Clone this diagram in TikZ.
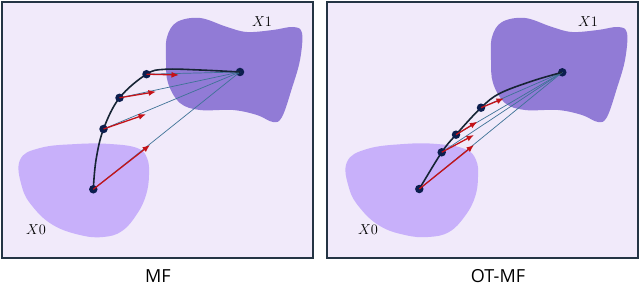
\documentclass[tikz,border=0pt]{standalone}
\usepackage{fontspec}
\newfontfamily\capfont{Open Sans}
\usetikzlibrary{arrows.meta}
\definecolor{bgpurple}{RGB}{241,234,250}
\definecolor{framecol}{RGB}{36,52,68}
\definecolor{srcpurple}{RGB}{200,176,250}
\definecolor{tgtpurple}{RGB}{145,123,214}
\definecolor{dotnavy}{RGB}{12,30,78}
\definecolor{curvecol}{RGB}{22,36,52}
\definecolor{arrred}{RGB}{196,18,24}
\definecolor{raycol}{RGB}{62,114,150}

\begin{document}
\begin{tikzpicture}[
    x=1pt, y=-1pt,
    >=Latex,
    panel/.style={draw=framecol, line width=1.8pt, fill=bgpurple},
    srcblob/.style={fill=srcpurple, draw=none},
    tgtblob/.style={fill=tgtpurple, draw=none},
    dot/.style={circle, fill=dotnavy, inner sep=0pt, minimum size=8.5pt},
    flow/.style={draw=curvecol, line width=1.6pt},
    ray/.style={draw=raycol, line width=0.7pt},
    vel/.style={draw=arrred, line width=1.3pt, arrows={-Latex[length=7.5pt, width=6pt]}},
    setlabel/.style={font=\fontsize{14}{16}\selectfont},
    caption/.style={font=\capfont\fontsize{18}{20}\selectfont},
]
\useasboundingbox (0,0) rectangle (640,286);

% ============ (a) MF ============
\begin{scope}
    \draw[panel] (2,2) rectangle (313,258);

    \fill[srcblob] plot[smooth cycle, tension=0.7] coordinates {(20,160) (40,148) (77,144) (110,144) (137,148) (147,158) (149,175) (146,195) (137,214) (122,231) (103,237) (80,235) (53,225) (33,207) (22,187)};
    \fill[tgtblob] plot[smooth cycle, tension=0.6] coordinates {(167,37) (177,22) (200,18) (227,27) (247,32) (273,30) (293,27) (302,33) (300,60) (292,88) (282,117) (273,122) (257,115) (233,110) (200,110) (180,103) (168,83) (166,60)};

    \node[setlabel] (a_lbl1) at (262,22) {$X1$};
    \node[setlabel] (a_lbl0) at (36,230) {$X0$};

    \coordinate (a_tip0) at (150,145);
    \coordinate (a_tip1) at (146,114.3);
    \coordinate (a_tip2) at (156,91.7);
    \coordinate (a_tip3) at (179,75);

    \node[dot] (a_x1) at (240,72) {};

    \draw[ray] (93.3,189.3) -- (a_x1.center);
    \draw[ray] (103.5,129) -- (a_x1.center);
    \draw[ray] (119.5,97.8) -- (a_x1.center);
    \draw[ray] (146.5,74.2) -- (a_x1.center);

    \draw[flow] plot[smooth, tension=0.6] coordinates {(93.3,189.3) (96,160) (103.5,129) (119.5,97.8) (146.5,74.2) (165,69.3) (200,70) (240,72)};

    \node[dot] (a_x0) at (93.3,189.3) {};
    \node[dot] (a_p1) at (103.5,129) {};
    \node[dot] (a_p2) at (119.5,97.8) {};
    \node[dot] (a_p3) at (146.5,74.2) {};

    \draw[vel] (a_x0.center) -- (a_tip0);
    \draw[vel] (a_p1.center) -- (a_tip1);
    \draw[vel] (a_p2.center) -- (a_tip2);
    \draw[vel] (a_p3.center) -- (a_tip3);

    \node[caption] (a_cap) at (158,276) {MF};
\end{scope}

% ============ (b) OT-MF ============
\begin{scope}[shift={(325,0)}]
    \draw[panel] (2,2) rectangle (313,258);

    \fill[srcblob] plot[smooth cycle, tension=0.7] coordinates {(22,162) (42,149) (79,144) (112,144) (140,149) (151,160) (153,177) (150,197) (140,216) (124,232) (103,237) (80,235) (55,226) (35,208) (24,188)};
    \fill[tgtblob] plot[smooth cycle, tension=0.6] coordinates {(167,37) (177,22) (200,18) (227,27) (247,32) (273,30) (293,27) (302,33) (300,60) (292,88) (282,117) (273,122) (257,115) (233,110) (200,110) (180,103) (168,83) (166,60)};

    \node[setlabel] (b_lbl1) at (263,22) {$X1$};
    \node[setlabel] (b_lbl0) at (43,230) {$X0$};

    \coordinate (b_tip0) at (149,145);
    \coordinate (b_tip1) at (149,135);
    \coordinate (b_tip2) at (152.3,121.7);
    \coordinate (b_tip3) at (179,98.3);

    \node[dot] (b_x1) at (237.3,72.3) {};

    \draw[ray] (94.3,189) -- (b_x1.center);
    \draw[ray] (116.7,152.3) -- (b_x1.center);
    \draw[ray] (131,134.7) -- (b_x1.center);
    \draw[ray] (156,107.7) -- (b_x1.center);

    \draw[flow] plot[smooth, tension=0.6] coordinates {(94.3,189) (116.7,152.3) (131,134.7) (156,107.7) (175,93.3) (208.3,80.7) (237.3,72.3)};

    \node[dot] (b_x0) at (94.3,189) {};
    \node[dot] (b_p1) at (116.7,152.3) {};
    \node[dot] (b_p2) at (131,134.7) {};
    \node[dot] (b_p3) at (156,107.7) {};

    \draw[vel] (b_x0.center) -- (b_tip0);
    \draw[vel] (b_p1.center) -- (b_tip1);
    \draw[vel] (b_p2.center) -- (b_tip2);
    \draw[vel] (b_p3.center) -- (b_tip3);

    \node[caption] (b_cap) at (173,276) {OT-MF};
\end{scope}

\end{tikzpicture}
\end{document}
